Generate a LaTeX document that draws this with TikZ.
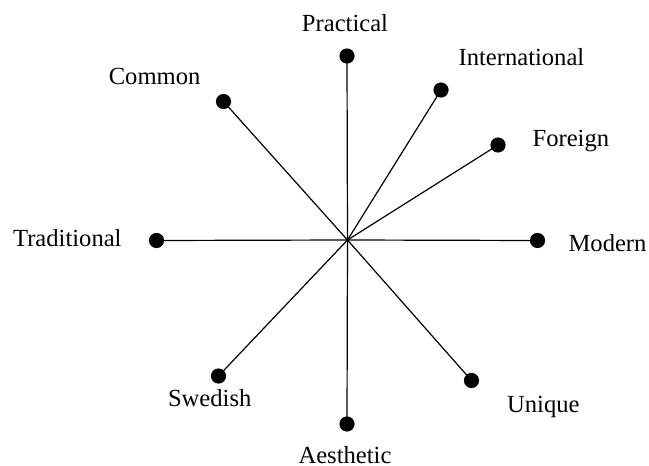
\documentclass[tikz,border=0pt]{standalone}
\usepackage{fontspec}
\setmainfont{Liberation Serif}
\usepackage{tikz}

\begin{document}
\begin{tikzpicture}[x=0.5pt,y=-0.5pt,line width=0.6pt,
    dot/.style={circle,fill=black,inner sep=0pt,minimum size=7.6pt},
    lbl/.style={inner sep=0pt,font=\fontsize{12.3}{14}\selectfont}]
    \useasboundingbox (0,0) rectangle (649,466);

    \coordinate (O) at (347.5, 240);

    % dots at the ends of the spokes
    \node[dot] (practical) at (347, 56) {};
    \node[dot] (international) at (441, 90) {};
    \node[dot] (foreign) at (498, 145) {};
    \node[dot] (modern) at (537.5, 240.5) {};
    \node[dot] (unique) at (471.5, 380.5) {};
    \node[dot] (aesthetic) at (347, 424) {};
    \node[dot] (swedish) at (218.5, 376) {};
    \node[dot] (traditional) at (156.5, 240.5) {};
    \node[dot] (common) at (223.5, 101.5) {};

    % spokes
    \foreach \p in {practical,international,foreign,modern,unique,aesthetic,swedish,traditional,common}
        \draw (O) -- (\p.center);

    % labels
    \node[lbl,anchor=base] (tpractical) at (345, 31.5) {Practical};
    \node[lbl,anchor=base west] (tinternational) at (458, 65) {International};
    \node[lbl,anchor=base west] (tforeign) at (532, 146) {Foreign};
    \node[lbl,anchor=base west] (tmodern) at (568, 251.5) {Modern};
    \node[lbl,anchor=base west] (tunique) at (506.5, 412) {Unique};
    \node[lbl,anchor=base] (taesthetic) at (345, 463.5) {Aesthetic};
    \node[lbl,anchor=base east] (tswedish) at (252, 406) {Swedish};
    \node[lbl,anchor=base west] (ttraditional) at (12.5, 246) {Traditional};
    \node[lbl,anchor=base east] (tcommon) at (201, 84.5) {Common};

\end{tikzpicture}
\end{document}
